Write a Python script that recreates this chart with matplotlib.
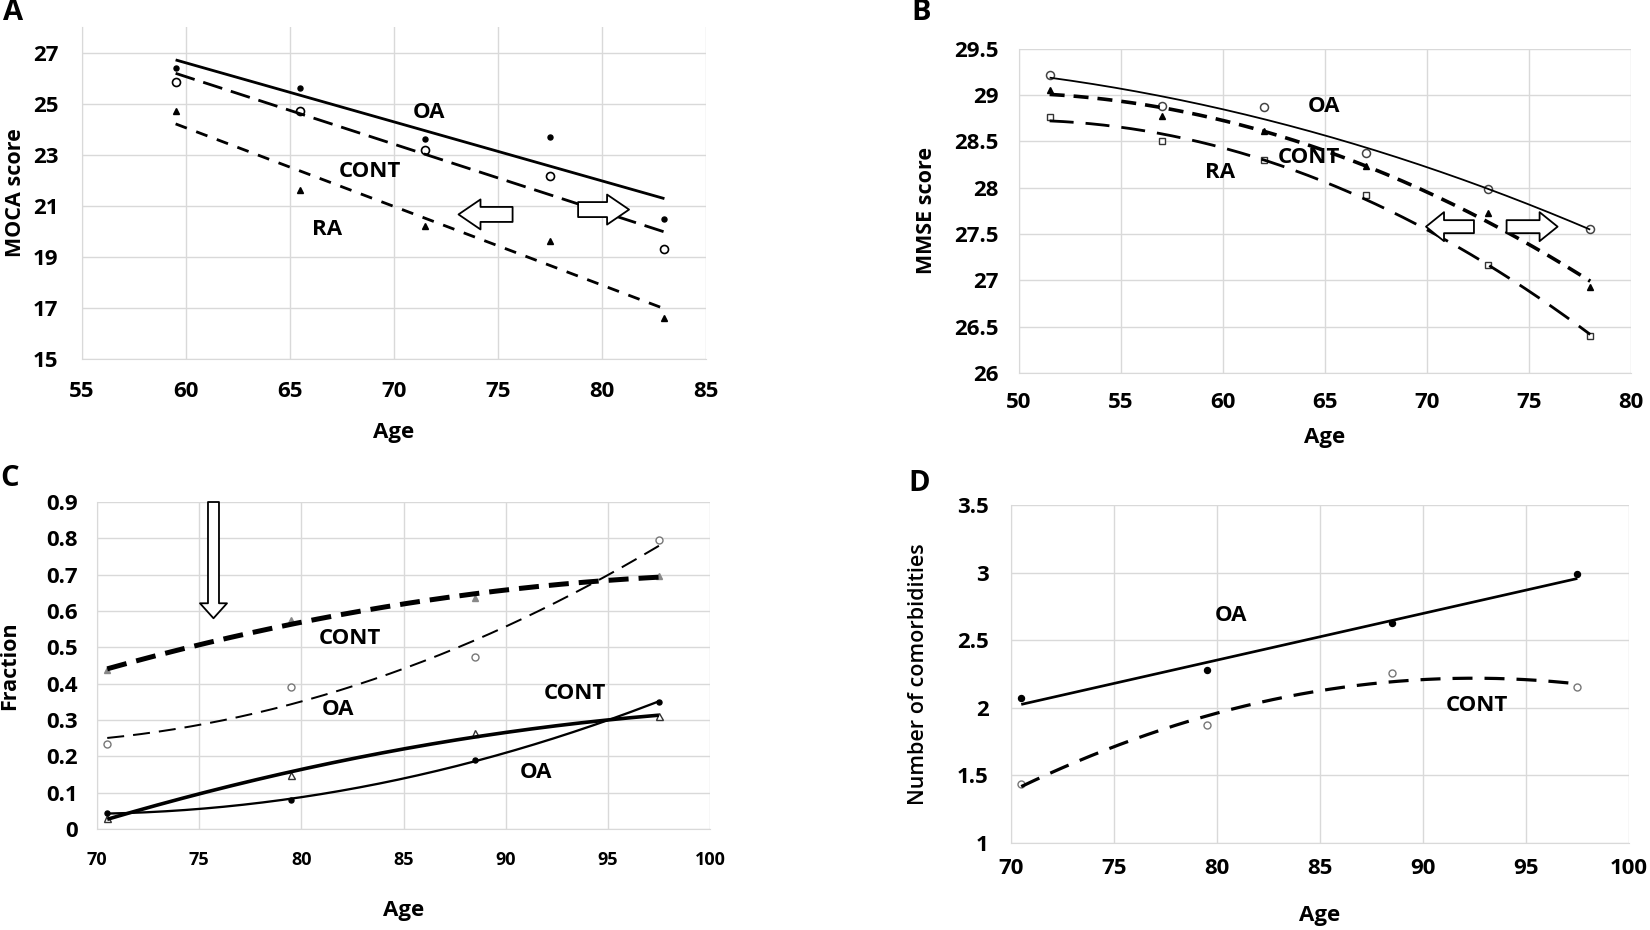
import matplotlib
matplotlib.use("Agg")
import matplotlib.pyplot as plt
import numpy as np
from matplotlib.ticker import FuncFormatter, MultipleLocator, FixedLocator

plt.rcParams['font.family'] = ['Open Sans', 'DejaVu Sans']
plt.rcParams['lines.scale_dashes'] = False

# panel A - MOCA
a_age = [59.5, 65.5, 71.5, 77.5, 83]
a_oa = [26.4, 25.6, 23.6, 23.7, 20.5]
a_cont = [25.85, 24.7, 23.2, 22.15, 19.3]
a_ra = [24.7, 21.6, 20.2, 19.6, 16.6]
a_yticks = [15, 17, 19, 21, 23, 25, 27]

# panel B - MMSE
b_age = [51.5, 57, 62, 67, 73, 78]
b_oa = [29.22, 28.88, 28.87, 28.38, 27.99, 27.55]
b_cont = [29.06, 28.78, 28.61, 28.23, 27.73, 26.93]
b_ra = [28.76, 28.51, 28.30, 27.92, 27.17, 26.40]

# panel C - fraction
c_age = [70.5, 79.5, 88.5, 97.5]
c_cont_hi = [0.437, 0.575, 0.636, 0.697]
c_oa_hi = [0.235, 0.39, 0.473, 0.795]
c_cont_lo = [0.030, 0.148, 0.263, 0.31]
c_oa_lo = [0.044, 0.079, 0.191, 0.35]

# panel D - comorbidities
d_age = [70.5, 79.5, 88.5, 97.5]
d_oa = [2.07, 2.28, 2.625, 2.99]
d_cont = [1.44, 1.873, 2.26, 2.155]

GRID = '#d9d9d9'
PX = 0.72  # points per pixel at dpi 100
FS = 16


def style(ax, xlim, ylim, xstep, ystep, xlabel, ylabel, xl_pos, yl_pos,
          ylw='bold', xfs=FS, xpad=14, ypad=15, yticks=None):
    ax.set_xlim(*xlim)
    ax.set_ylim(*ylim)
    ax.xaxis.set_major_locator(MultipleLocator(xstep))
    if yticks is not None:
        ax.yaxis.set_major_locator(FixedLocator(yticks))
    else:
        ax.yaxis.set_major_locator(MultipleLocator(ystep))
    fmt = FuncFormatter(lambda v, p: f"{round(v, 3):g}")
    ax.xaxis.set_major_formatter(fmt)
    ax.yaxis.set_major_formatter(fmt)
    ax.grid(True, color=GRID, lw=1)
    ax.set_axisbelow(True)
    for s in ['top', 'right']:
        ax.spines[s].set_visible(False)
    for s in ['left', 'bottom']:
        ax.spines[s].set_color(GRID)
    ax.tick_params(axis='x', length=0, labelsize=xfs, pad=xpad)
    ax.tick_params(axis='y', length=0, labelsize=FS, pad=ypad)
    for t in ax.get_xticklabels() + ax.get_yticklabels():
        t.set_fontweight('bold')
    ax.set_xlabel(xlabel, fontsize=FS, fontweight='bold')
    ax.set_ylabel(ylabel, fontsize=FS - 0.5, fontweight=ylw)
    ax.xaxis.set_label_coords(0.5, xl_pos)
    ax.xaxis.label.set_verticalalignment('center')
    ax.yaxis.set_label_coords(yl_pos, 0.5)
    ax.yaxis.label.set_verticalalignment('center')


def trend(ax, x, y, deg, lw, dashes=None, color='black'):
    c = np.polyfit(x, y, deg)
    xs = np.linspace(min(x), max(x), 200)
    line, = ax.plot(xs, np.polyval(c, xs), color=color, lw=lw * PX, zorder=3,
                    solid_capstyle='butt', dash_capstyle='butt')
    if dashes:
        line.set_dashes([d * PX for d in dashes])


def block_arrow(ax, tail, tip, body=15, head=30, hlen=22):
    ax.annotate('', xy=tip, xytext=tail,
                arrowprops=dict(arrowstyle=f"simple,head_length={hlen * PX},head_width={head * PX},"
                                           f"tail_width={body * PX}",
                                fc='white', ec='black', lw=1.3, shrinkA=0, shrinkB=0,
                                mutation_scale=1), zorder=5)


def lab(ax, x, y, s):
    ax.text(x, y, s, fontsize=FS, fontweight='bold', ha='center', va='center', zorder=6)


fig = plt.figure(figsize=(16.5, 9.3), dpi=100)
axA = fig.add_axes([0.0497, 0.614, 0.3782, 0.357])
axB = fig.add_axes([0.6176, 0.599, 0.3709, 0.3484])
axC = fig.add_axes([0.0588, 0.1086, 0.3715, 0.3516])
axD = fig.add_axes([0.6127, 0.0935, 0.3745, 0.3634])

# ---- A
ax = axA
ax.plot(a_age, a_oa, 'o', ms=5 * PX, color='black', zorder=2)
ax.plot(a_age, a_cont, 'o', ms=8 * PX, mfc='white', mec='black', mew=1.2, zorder=2)
ax.plot(a_age, a_ra, '^', ms=6 * PX, color='black', zorder=2)
trend(ax, a_age, a_oa, 1, 2.8)
trend(ax, a_age, a_cont, 1, 2.8, dashes=[20, 9])
trend(ax, a_age, a_ra, 1, 2.8, dashes=[12, 10])
lab(ax, 71.7, 24.64, 'OA')
lab(ax, 68.85, 22.33, 'CONT')
lab(ax, 66.8, 20.07, 'RA')
block_arrow(ax, (75.7, 20.66), (73.1, 20.66))
block_arrow(ax, (78.85, 20.85), (81.3, 20.85))
style(ax, (55, 85), (15, 28), 5, 2, 'Age', 'MOCA score', -0.22, -0.106,
      xpad=16, ypad=17, yticks=a_yticks)

# ---- B
ax = axB
ax.plot(b_age, b_oa, 'o', ms=8 * PX, mfc='white', mec='#444444', mew=1.1, zorder=2)
ax.plot(b_age, b_cont, '^', ms=6 * PX, color='black', zorder=2)
ax.plot(b_age, b_ra, 's', ms=6 * PX, mfc='white', mec='#333333', mew=1.0, zorder=2)
trend(ax, b_age, b_oa, 2, 1.8)
trend(ax, b_age, b_cont, 2, 3.6, dashes=[15, 9])
trend(ax, b_age, b_ra, 2, 2.8, dashes=[24, 12])
lab(ax, 64.95, 28.88, 'OA')
lab(ax, 64.2, 28.33, 'CONT')
lab(ax, 59.85, 28.16, 'RA')
block_arrow(ax, (72.3, 27.58), (69.95, 27.58), body=13, head=29, hlen=18)
block_arrow(ax, (73.9, 27.58), (76.4, 27.58), body=13, head=29, hlen=18)
style(ax, (50, 80), (26, 29.5), 5, 0.5, 'Age', 'MMSE score', -0.198, -0.152,
      xpad=14, ypad=15)

# ---- C
ax = axC
ax.plot(c_age, c_cont_hi, '^', ms=6 * PX, color='#888888', zorder=2)
ax.plot(c_age, c_oa_hi, 'o', ms=7 * PX, mfc='white', mec='#777777', mew=1.0, zorder=2)
ax.plot(c_age, c_cont_lo, '^', ms=7 * PX, mfc='white', mec='#333333', mew=1.0, zorder=2)
ax.plot(c_age, c_oa_lo, 'o', ms=5 * PX, color='black', zorder=2)
trend(ax, c_age, c_cont_hi, 2, 5, dashes=[20, 10])
trend(ax, c_age, c_oa_hi, 2, 2, dashes=[17, 9])
trend(ax, c_age, c_cont_lo, 2, 3.6)
trend(ax, c_age, c_oa_lo, 2, 2.3)
lab(ax, 82.4, 0.523, 'CONT')
lab(ax, 81.8, 0.33, 'OA')
lab(ax, 93.4, 0.374, 'CONT')
lab(ax, 91.5, 0.156, 'OA')
block_arrow(ax, (75.7, 0.9), (75.7, 0.58), body=11, head=27, hlen=15)
style(ax, (70, 100), (0, 0.9), 5, 0.1, 'Age', 'Fraction', -0.248, -0.142,
      xfs=13, xpad=16, ypad=14)

# ---- D
ax = axD
ax.plot(d_age, d_oa, 'o', ms=6 * PX, color='black', zorder=2)
ax.plot(d_age, d_cont, 'o', ms=7 * PX, mfc='white', mec='#777777', mew=1.0, zorder=2)
trend(ax, d_age, d_oa, 1, 2.7)
trend(ax, d_age, d_cont, 2, 3.2, dashes=[20, 12])
lab(ax, 80.7, 2.68, 'OA')
lab(ax, 92.6, 2.02, 'CONT')
style(ax, (70, 100), (1, 3.5), 5, 0.5, 'Age', 'Number of comorbidities', -0.213, -0.149,
      ylw='semibold', xpad=11, ypad=16)

for s, x, y in [('A', 13, 13), ('B', 921, 13), ('C', 10, 478), ('D', 919, 483)]:
    fig.text(x / 1650, 1 - y / 930, s, fontsize=21, fontweight='bold', ha='center', va='center')

fig.savefig('out.png', dpi=100)
